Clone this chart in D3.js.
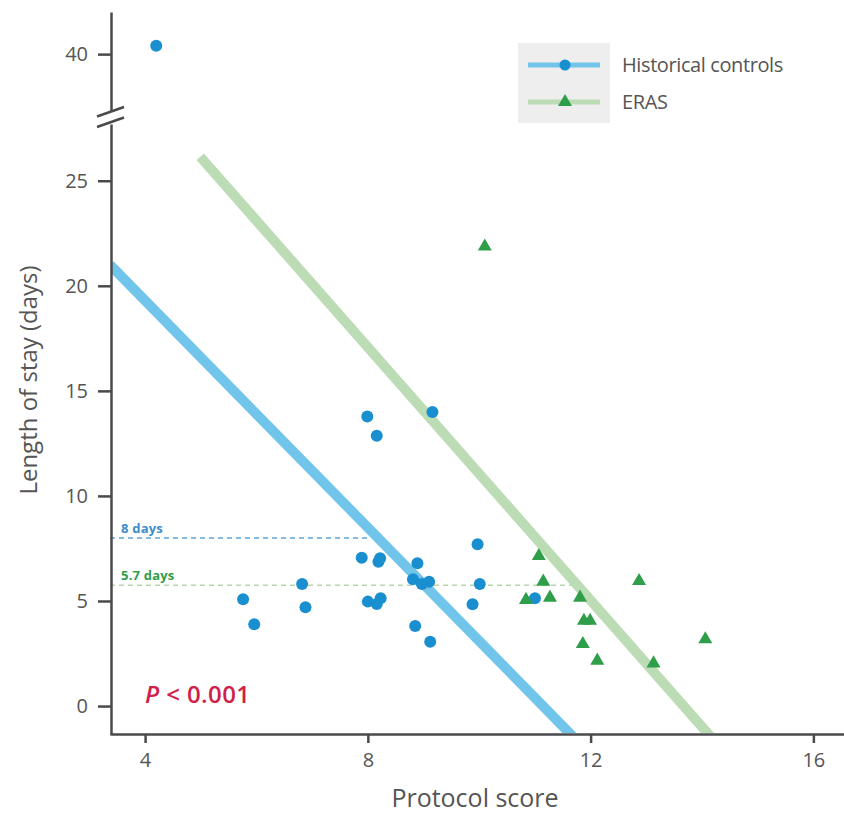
<!DOCTYPE html>
<html>
<head>
<meta charset="utf-8">
<script src="https://cdn.jsdelivr.net/npm/d3@7"></script>
<style>
  body { margin: 0; background: #fff; }
  svg { display: block; font-family: "Open Sans", sans-serif; }
  .axis path, .axis line { stroke: #4a4a4c; stroke-width: 2.5; }
  .axis text { fill: #555; font-size: 20px; font-family: "Open Sans", sans-serif; }
</style>
</head>
<body>
<div id="chart"></div>
<script>
// Historical controls: [protocol score, length of stay]
const historical = [
    [4.20, 40.4],
    [5.76, 5.08], [5.96, 3.89], [6.82, 5.81], [6.88, 4.70],
    [7.89, 7.06], [8.19, 6.87], [8.22, 7.03], [8.00, 4.97],
    [8.16, 4.86], [8.23, 5.13], [8.89, 6.80], [8.81, 6.03],
    [8.97, 5.81], [9.10, 5.92], [8.85, 3.81], [9.12, 3.06],
    [9.97, 7.70], [10.01, 5.81], [9.88, 4.84], [11.00, 5.13],
    [7.99, 13.78], [8.16, 12.86], [9.16, 13.99]
];
// ERAS: [protocol score, length of stay]
const eras = [
    [11.07, 7.14], [11.15, 5.92], [10.84, 5.05], [11.27, 5.16],
    [11.81, 5.16], [11.88, 4.06], [11.99, 4.06], [11.86, 2.95],
    [12.12, 2.16], [12.87, 5.95], [13.13, 2.03], [14.06, 3.18],
    [10.10, 21.87]
];
// regression line end points
const historicalFit = [[3.37, 21.0], [11.70, -1.5]];
const erasFit = [[4.99, 26.14], [14.17, -1.5]];
// median lines: [value, x end, label]
const medians = [
    {name: 'historical', y: 8.0, xEnd: 8.0, label: '8 days'},
    {name: 'eras', y: 5.75, xEnd: 11.75, label: '5.7 days'}
];
const xTicks = [4, 8, 12, 16];
const yTicksLow = [0, 5, 10, 15, 20, 25];
const yTicksHigh = [40];
const legendItems = ['Historical controls', 'ERAS'];

const colors = {
    historical: '#1a8fcf', historicalLine: '#72c5ea', historicalDash: '#5aa6da',
    eras: '#2f9e49', erasLine: '#bcdcb5', erasDash: '#b7d6ae'
};

const W = 844, H = 814;
const svg = d3.select('#chart').append('svg')
    .attr('width', W).attr('height', H);

const x = d3.scaleLinear().domain([3.37, 16.55]).range([110, 844]);
const yLow = d3.scaleLinear().domain([-1.33, 27.7]).range([734, 124]);
const yHigh = d3.scaleLinear().domain([37.3, 42]).range([111, 12]);
const yOf = v => v >= 30 ? yHigh(v) : yLow(v);

svg.append('defs').append('clipPath').attr('id', 'plot')
    .append('rect').attr('x', 111).attr('y', 0).attr('width', W).attr('height', 733);

// median dashed lines
medians.forEach(function(m) {
    svg.append('line')
        .attr('x1', x(3.37)).attr('x2', x(m.xEnd))
        .attr('y1', yLow(m.y)).attr('y2', yLow(m.y))
        .attr('stroke', m.name == 'eras' ? colors.erasDash : colors.historicalDash)
        .attr('stroke-width', 1.6)
        .attr('stroke-dasharray', '5,4');
    svg.append('text')
        .attr('x', x(3.37) + 11).attr('y', yLow(m.y) - 5)
        .attr('fill', m.name == 'eras' ? '#2f9e49' : '#3d8ccc')
        .style('font-size', '13px').style('font-weight', 'bold')
        .style('letter-spacing', '0.2px')
        .text(m.label);
});

// regression lines
const line = d3.line().x(d => x(d[0])).y(d => yLow(d[1]));
const fits = svg.append('g').attr('clip-path', 'url(#plot)');
fits.append('path').attr('d', line(erasFit))
    .attr('stroke', colors.erasLine).attr('stroke-width', 10).attr('fill', 'none');
fits.append('path').attr('d', line(historicalFit))
    .attr('stroke', colors.historicalLine).attr('stroke-width', 10).attr('fill', 'none');

// points
svg.append('g').selectAll('circle').data(historical).enter()
    .append('circle')
    .attr('cx', d => x(d[0]))
    .attr('cy', d => yOf(d[1]))
    .attr('r', 6)
    .attr('fill', colors.historical);

svg.append('g').selectAll('path').data(eras).enter()
    .append('path')
    .attr('d', d3.symbol(d3.symbolTriangle).size(85))
    .attr('transform', d => 'translate(' + x(d[0]) + ',' + yOf(d[1]) + ')')
    .attr('fill', colors.eras);

// axes
svg.append('g').attr('class', 'axis')
    .attr('transform', 'translate(0,734)')
    .call(d3.axisBottom(x).tickValues(xTicks).tickSize(9).tickSizeOuter(0).tickPadding(10));

svg.append('g').attr('class', 'axis')
    .attr('transform', 'translate(111,0)')
    .call(d3.axisLeft(yLow).tickValues(yTicksLow).tickFormat(d3.format('d'))
        .tickSize(13).tickSizeOuter(0).tickPadding(10));

svg.append('g').attr('class', 'axis')
    .attr('transform', 'translate(111,0)')
    .call(d3.axisLeft(yHigh).tickValues(yTicksHigh).tickFormat(d3.format('d'))
        .tickSize(13).tickSizeOuter(0).tickPadding(10));

// axis break marks
[111, 121.5].forEach(function(c) {
    svg.append('line')
        .attr('x1', 97).attr('y1', c + 5.5)
        .attr('x2', 124).attr('y2', c - 4)
        .attr('stroke', '#4a4a4c').attr('stroke-width', 2.5);
});

// axis titles
svg.append('text')
    .attr('transform', 'translate(37,380) rotate(-90)')
    .attr('text-anchor', 'middle')
    .attr('fill', '#555')
    .style('font-size', '24px')
    .text('Length of stay (days)');

svg.append('text')
    .attr('x', 475).attr('y', 807)
    .attr('text-anchor', 'middle')
    .attr('fill', '#555')
    .style('font-size', '25px')
    .text('Protocol score');

// P value
const p = svg.append('text')
    .attr('x', 145).attr('y', 703)
    .attr('fill', '#d21e4b')
    .style('font-size', '24px').style('font-weight', '600')
    .style('letter-spacing', '0.4px');
p.append('tspan').style('font-style', 'italic').text('P');
p.append('tspan').text(' < 0.001');

// legend
const legend = svg.append('g');
legend.append('rect')
    .attr('x', 518).attr('y', 43).attr('width', 92).attr('height', 80)
    .attr('fill', '#eeeeee');
legendItems.forEach(function(name, i) {
    const ly = 65 + i * 37;
    legend.append('line')
        .attr('x1', 528).attr('x2', 600).attr('y1', ly).attr('y2', ly)
        .attr('stroke', i == 0 ? colors.historicalLine : colors.erasLine)
        .attr('stroke-width', 5);
    if (i == 0) {
        legend.append('circle').attr('cx', 565).attr('cy', ly).attr('r', 5.5)
            .attr('fill', colors.historical);
    } else {
        legend.append('path')
            .attr('d', d3.symbol(d3.symbolTriangle).size(85))
            .attr('transform', 'translate(565,' + ly + ')')
            .attr('fill', colors.eras);
    }
    legend.append('text')
        .attr('x', 622).attr('y', ly + 7)
        .attr('fill', '#555')
        .style('font-size', '20px')
        .style('letter-spacing', '-0.4px')
        .text(name);
});
</script>
</body>
</html>
